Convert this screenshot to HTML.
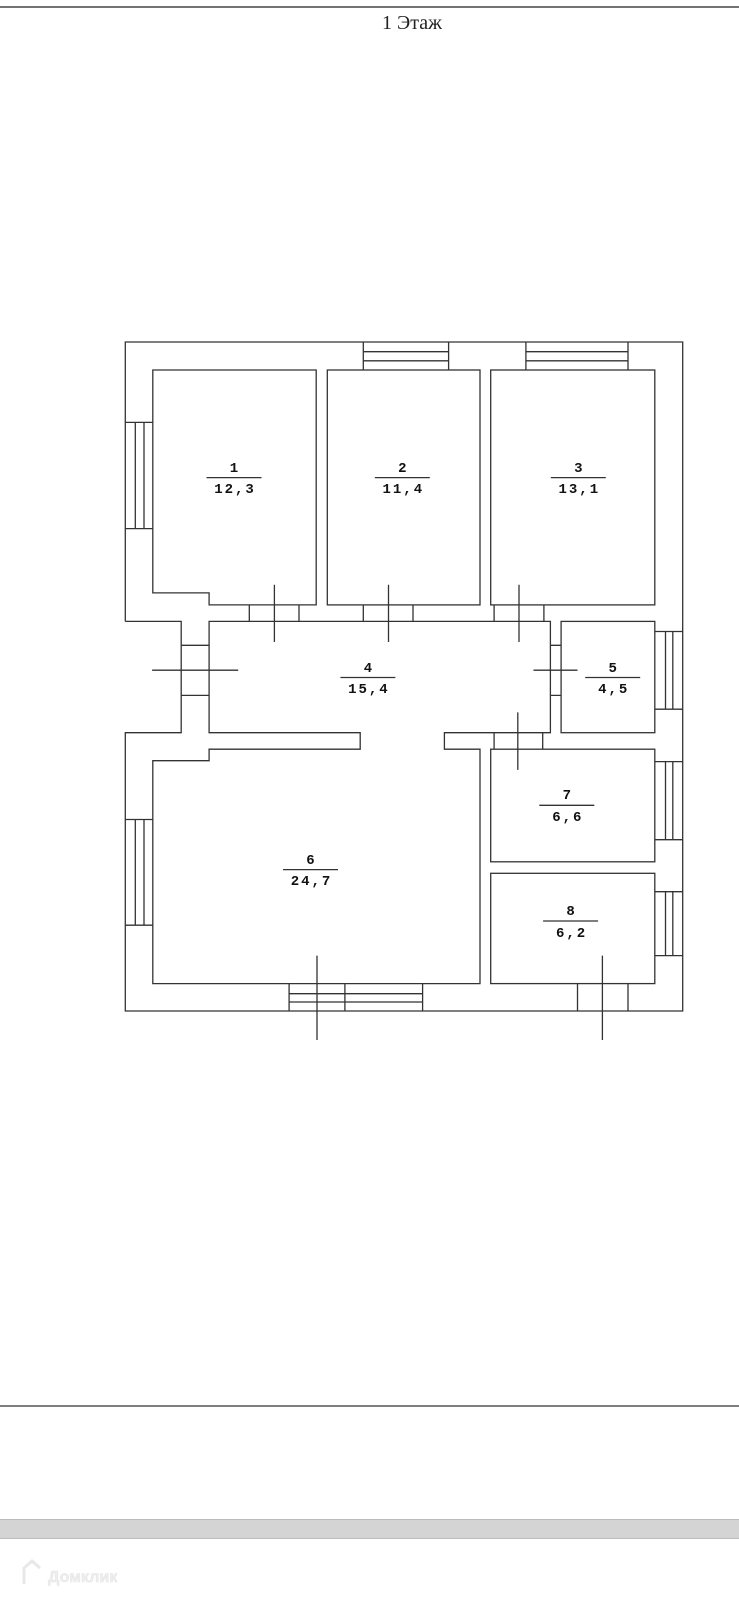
<!DOCTYPE html>
<html><head><meta charset="utf-8"><style>
html,body{margin:0;padding:0;background:#fff;width:739px;height:1600px;overflow:hidden}
svg{display:block}
</style></head><body>
<svg width="739" height="1600" viewBox="0 0 739 1600" xmlns="http://www.w3.org/2000/svg">
<line x1="0" y1="7" x2="739" y2="7" stroke="#444" stroke-width="1.5"/>
<text x="412" y="29" font-family="Liberation Serif, serif" font-size="20" text-anchor="middle" fill="#222">1 Этаж</text>
<g fill="none" stroke="#333" stroke-width="1.3">
<polyline points="125.3,621.4 125.3,342 682.7,342 682.7,1011 125.3,1011 125.3,732.7 181.2,732.7 181.2,621.4 125.3,621.4"/>
<polygon points="152.8,370 316.2,370 316.2,604.9 209.1,604.9 209.1,592.9 152.8,592.9"/>
<rect x="327.3" y="370" width="152.7" height="234.9"/>
<rect x="490.7" y="370" width="164.1" height="234.9"/>
<polygon points="209.1,621.4 550.4,621.4 550.4,732.7 444.4,732.7 444.4,749.2 480,749.2 480,983.6 152.8,983.6 152.8,760.7 209.1,760.7 209.1,749.2 360.2,749.2 360.2,732.7 209.1,732.7"/>
<rect x="561.1" y="621.4" width="93.7" height="111.3"/>
<rect x="490.7" y="749.2" width="164.1" height="112.6"/>
<rect x="490.7" y="873.3" width="164.1" height="110.3"/>
<path d="M249.3 604.9V621.4M299 604.9V621.4M363.3 604.9V621.4M413 604.9V621.4M494.1 604.9V621.4M543.9 604.9V621.4
M550.4 645.3H561.1M550.4 695.4H561.1M494.1 732.7V749.2M542.7 732.7V749.2M577.5 983.6V1011M628 983.6V1011
M181.2 645.3H209.1M181.2 695.4H209.1"/>
<path d="M274.4 584.7V642M388.5 584.7V642M519 584.7V642M152.1 670.2H238.2M533.5 670.2H577.5M517.8 712.4V769.9M317 955.6V1040M602.4 955.6V1040"/>
<path d="M363.3 342V370M448.6 342V370M363.3 351.7H448.6M363.3 360.8H448.6
M525.9 342V370M628 342V370M525.9 351.7H628M525.9 360.8H628"/>
<path d="M125.3 422.4H152.8M125.3 528.6H152.8M135.3 422.4V528.6M144 422.4V528.6
M125.3 819.5H152.8M125.3 925.2H152.8M135.3 819.5V925.2M144 819.5V925.2"/>
<path d="M654.8 631.5H682.7M654.8 709.2H682.7M665.5 631.5V709.2M672.8 631.5V709.2
M654.8 761.6H682.7M654.8 839.7H682.7M665.5 761.6V839.7M672.8 761.6V839.7
M654.8 891.7H682.7M654.8 955.6H682.7M665.5 891.7V955.6M672.8 891.7V955.6"/>
<path d="M289.1 983.6V1011M422.6 983.6V1011M344.9 983.6V1011M289.1 993.7H422.6M289.1 1002H422.6"/>
<path d="M206.5 477.6H261.5M374.8 477.6H429.8M550.8 477.6H605.8M340.4 677.5H395.4M585.2 677.5H640.2M283 869.6H338M539.3 805.3H594.3M543.1 921H598.1"/>
</g>
<g font-family="Liberation Mono, monospace" font-size="14" font-weight="bold" letter-spacing="2" text-anchor="middle" fill="#111">
<text x="235" y="472">1</text><text x="235" y="493">12,3</text>
<text x="403.3" y="472">2</text><text x="403.3" y="493">11,4</text>
<text x="579.3" y="472">3</text><text x="579.3" y="493">13,1</text>
<text x="368.9" y="672">4</text><text x="368.9" y="693">15,4</text>
<text x="613.7" y="672">5</text><text x="613.7" y="693">4,5</text>
<text x="311.5" y="864">6</text><text x="311.5" y="885">24,7</text>
<text x="567.8" y="799">7</text><text x="567.8" y="821">6,6</text>
<text x="571.6" y="915">8</text><text x="571.6" y="937">6,2</text>
</g>
<line x1="0" y1="1406" x2="739" y2="1406" stroke="#555" stroke-width="1.5"/>
<rect x="0" y="1519" width="739" height="20" fill="#d4d4d4"/>
<line x1="0" y1="1519.5" x2="739" y2="1519.5" stroke="#bbb"/>
<line x1="0" y1="1538.5" x2="739" y2="1538.5" stroke="#bbb"/>
<text x="48" y="1582" font-family="Liberation Sans, sans-serif" font-size="16" font-weight="bold" fill="#eee" stroke="#e4e4e4" stroke-width="0.5">Домклик</text>
<path d="M24 1584V1568L32 1561L40 1568" fill="none" stroke="#e8e8e8" stroke-width="3"/>
</svg>
</body></html>
